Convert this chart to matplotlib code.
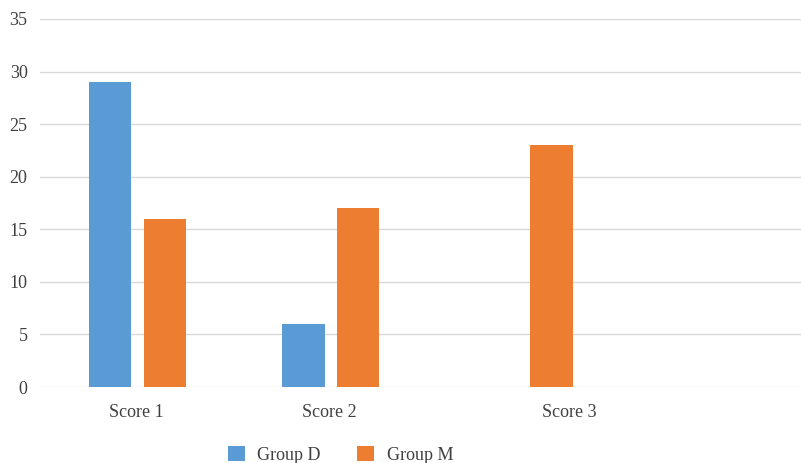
import matplotlib.pyplot as plt
import matplotlib.transforms as mtransforms
import numpy as np

categories = ['Score 1', 'Score 2', 'Score 3']
group_d = [29, 6, 0]
group_m = [16, 17, 23]
series_names = ['Group D', 'Group M']
colors = ['#5B9BD5', '#ED7D31']

plt.rcParams['font.family'] = ['Liberation Serif', 'DejaVu Serif']

fig = plt.figure(figsize=(8.01, 4.63), dpi=100)
ax = fig.add_axes([0.05, 0.164, 0.95, 0.795])

x = np.arange(len(categories))
w = 0.22
off = 0.142
ax.bar(x - off + 0.005, group_d, w, color=colors[0], label=series_names[0], zorder=3)
ax.bar(x + off + 0.005, group_m, w, color=colors[1], label=series_names[1], zorder=3)

ax.set_xlim(-0.5, 3.44)
ax.set_ylim(0, 35)
ax.set_yticks(range(0, 36, 5))
ax.set_xticks(x)
ax.set_xticklabels(categories)
ax.yaxis.grid(True, color='#D9D9D9', linewidth=1, zorder=0)
for s in ax.spines.values():
    s.set_visible(False)
ax.tick_params(axis='both', length=0, labelsize=13, colors='#404040', pad=9)
ax.tick_params(axis='x', pad=12)

# the last category label sits right of its bars in the original
lbl = ax.get_xticklabels()[2]
lbl.set_transform(lbl.get_transform() + mtransforms.ScaledTranslation(0.46, 0, fig.dpi_scale_trans))

fig.legend(loc='center', bbox_to_anchor=(0.425, 0.018), ncol=2, frameon=False,
           fontsize=13, handlelength=0.95, handleheight=0.95, columnspacing=2.0,
           handletextpad=0.7, labelcolor='#404040')

fig.savefig('out.png', dpi=100)
